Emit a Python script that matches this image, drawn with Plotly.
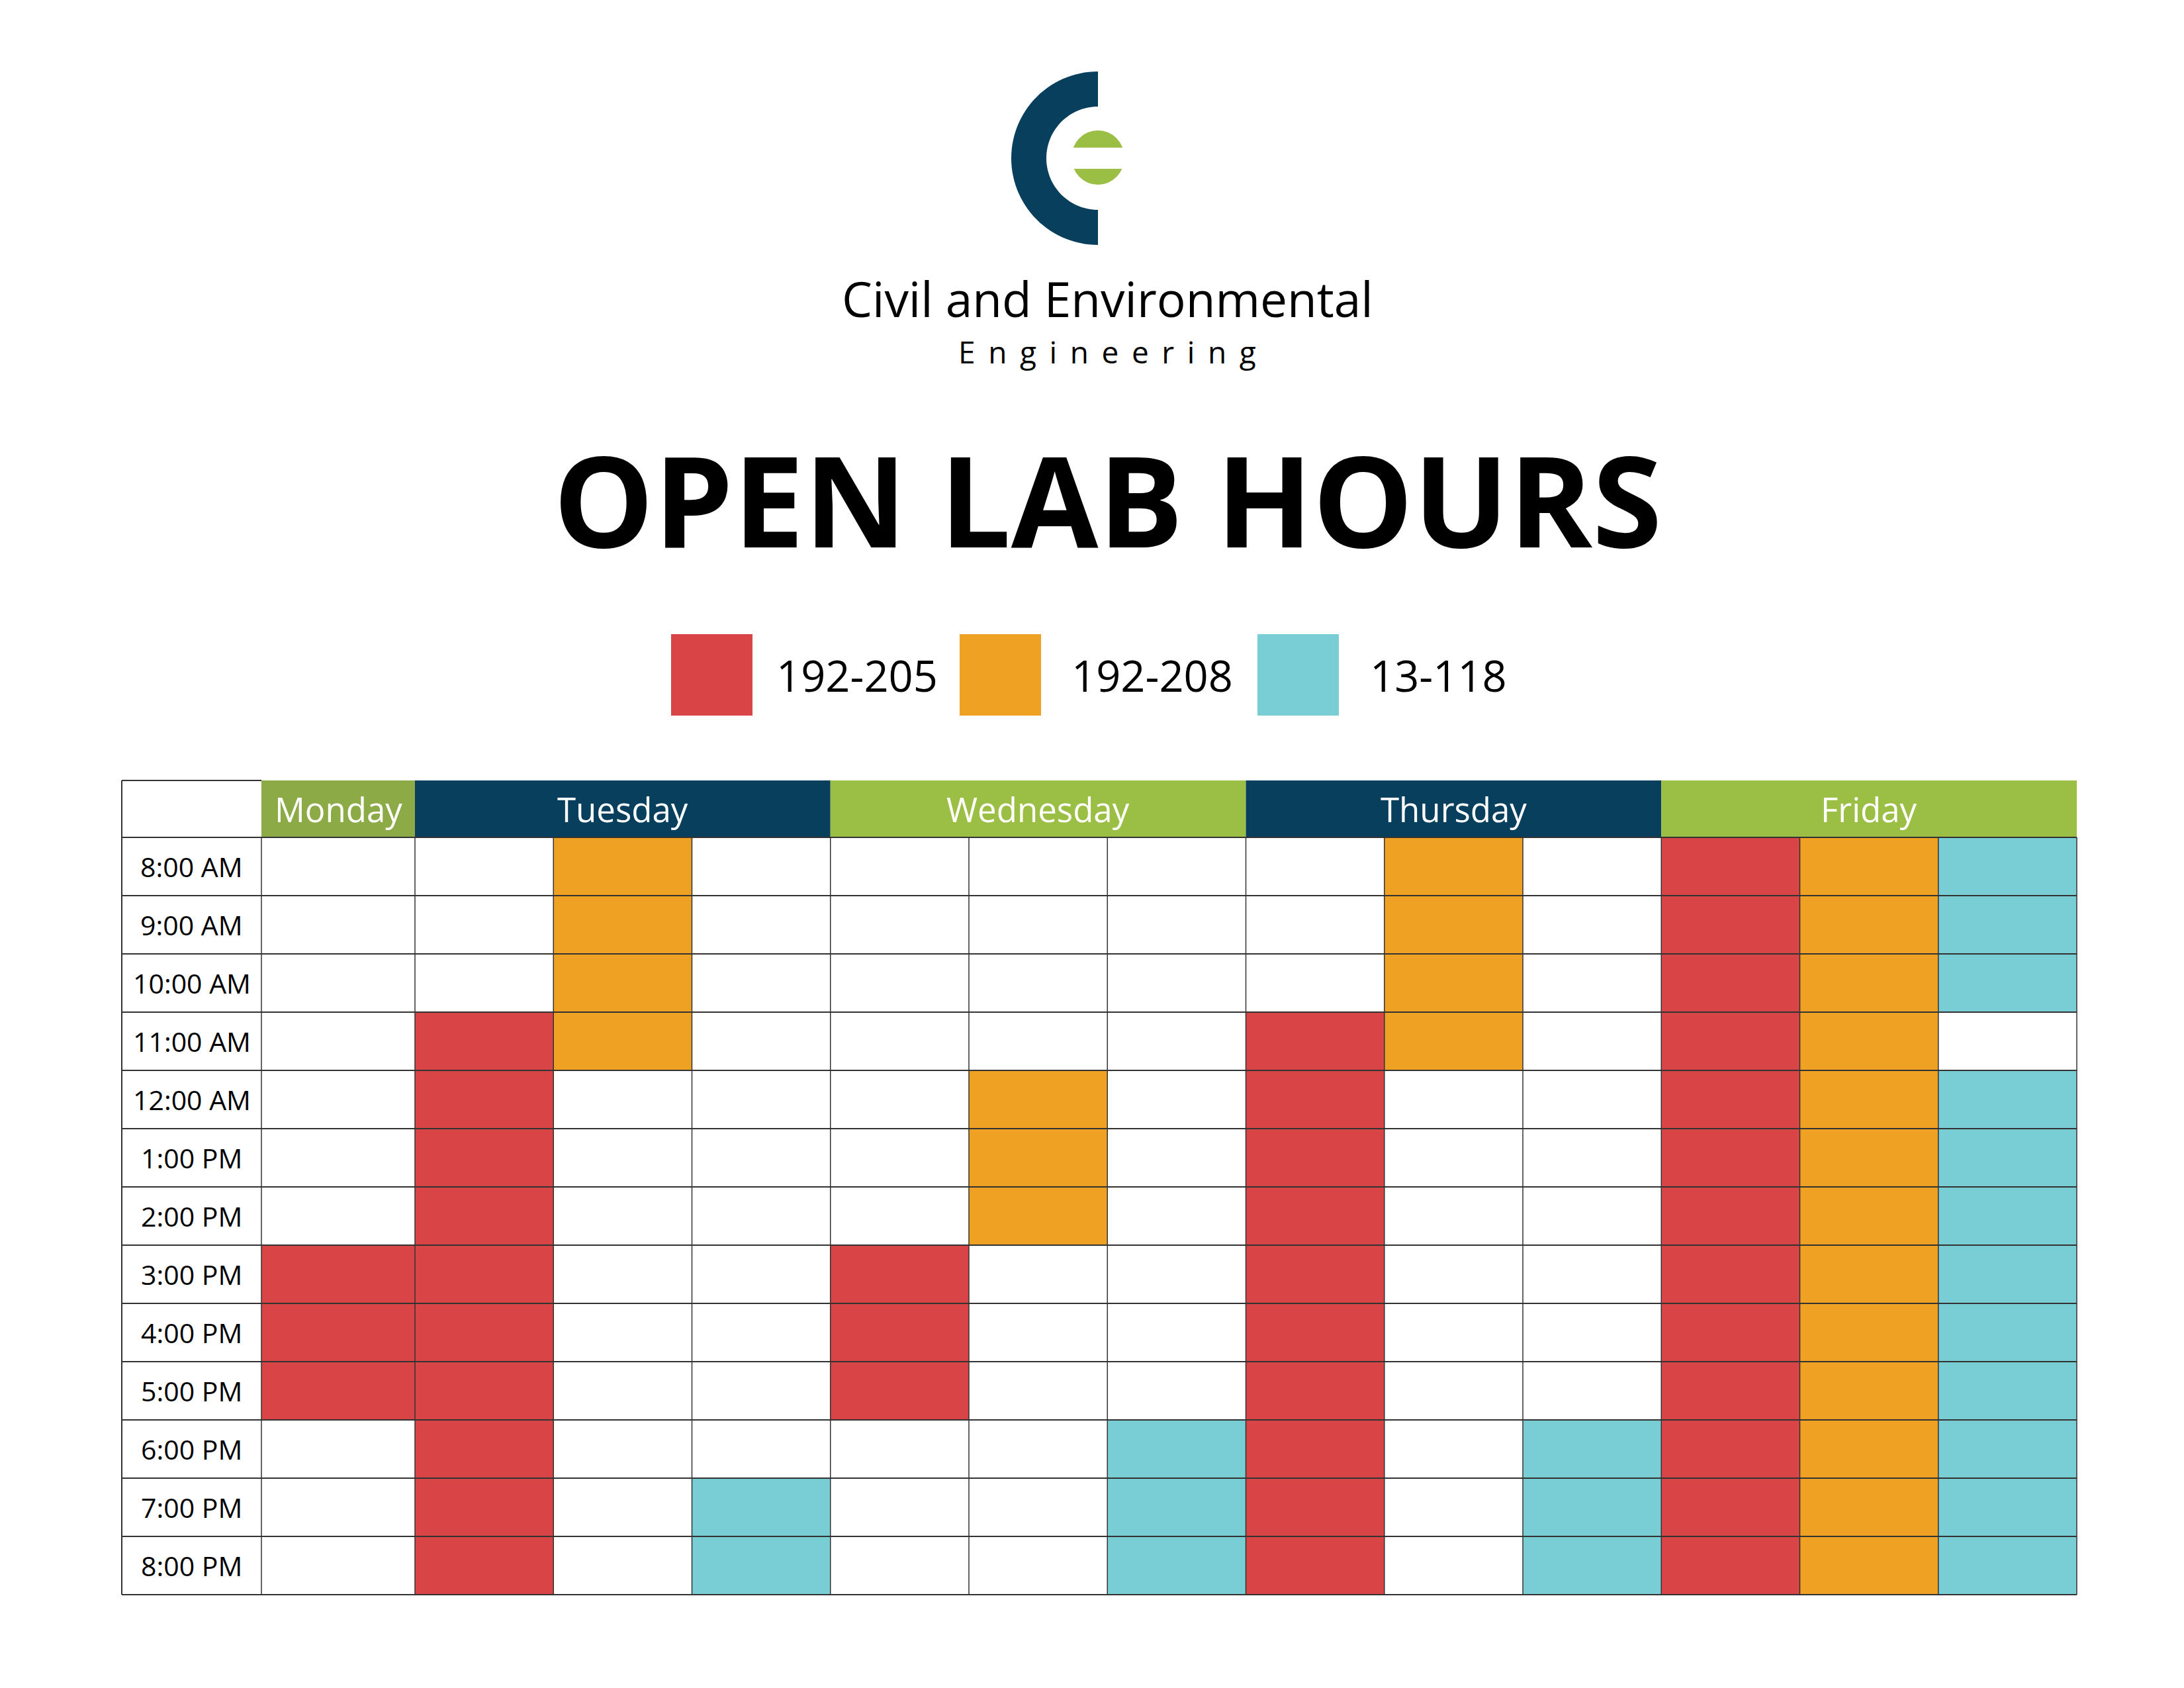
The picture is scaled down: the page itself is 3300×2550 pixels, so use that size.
import math
import plotly.graph_objects as go

# schedule data: 0 = empty, 1 = 192-205, 2 = 192-208, 3 = 13-118
times = ["8:00 AM", "9:00 AM", "10:00 AM", "11:00 AM", "12:00 AM", "1:00 PM", "2:00 PM",
         "3:00 PM", "4:00 PM", "5:00 PM", "6:00 PM", "7:00 PM", "8:00 PM"]
days = ["Monday", "Tuesday", "Wednesday", "Thursday", "Friday"]
day_cols = [1, 3, 3, 3, 3]
rooms = ["192-205", "192-208", "13-118"]
room_colors = ["#D94547", "#EFA124", "#79CDD4"]

monday = [[0, 0, 0, 0, 0, 0, 0, 1, 1, 1, 0, 0, 0]]
tuesday = [[0, 0, 0, 1, 1, 1, 1, 1, 1, 1, 1, 1, 1],
           [2, 2, 2, 2, 0, 0, 0, 0, 0, 0, 0, 0, 0],
           [0, 0, 0, 0, 0, 0, 0, 0, 0, 0, 0, 3, 3]]
wednesday = [[0, 0, 0, 0, 0, 0, 0, 1, 1, 1, 0, 0, 0],
             [0, 0, 0, 0, 2, 2, 2, 0, 0, 0, 0, 0, 0],
             [0, 0, 0, 0, 0, 0, 0, 0, 0, 0, 3, 3, 3]]
thursday = [[0, 0, 0, 1, 1, 1, 1, 1, 1, 1, 1, 1, 1],
            [2, 2, 2, 2, 0, 0, 0, 0, 0, 0, 0, 0, 0],
            [0, 0, 0, 0, 0, 0, 0, 0, 0, 0, 3, 3, 3]]
friday = [[1, 1, 1, 1, 1, 1, 1, 1, 1, 1, 1, 1, 1],
          [2, 2, 2, 2, 2, 2, 2, 2, 2, 2, 2, 2, 2],
          [3, 3, 3, 0, 3, 3, 3, 3, 3, 3, 3, 3, 3]]

columns = monday + tuesday + wednesday + thursday + friday
z = [[col[r] for col in columns] for r in range(len(times))]

# layout geometry (page pixels)
W, H = 3300, 2550
left, tcol = 176, 387
mon_w = 232
sub_w = (3130 - tcol - mon_w) / 12
x_edges = [tcol, tcol + mon_w] + [tcol + mon_w + sub_w * (i + 1) for i in range(12)]
head_top, grid_top, row_h = 1171, 1257, 88
y_edges = [grid_top + row_h * i for i in range(len(times) + 1)]

navy, green, green_dark = "#083F5C", "#9BBE44", "#8CAA46"
font = "Open Sans"

fig = go.Figure()
cs = [[0, "white"], [0.25, "white"], [0.25, room_colors[0]], [0.5, room_colors[0]],
      [0.5, room_colors[1]], [0.75, room_colors[1]], [0.75, room_colors[2]], [1, room_colors[2]]]
fig.add_trace(go.Heatmap(z=z, x=x_edges, y=y_edges, zmin=0, zmax=4 - 1e-9, colorscale=cs,
                         showscale=False, hoverinfo="skip"))

shapes = []
annotations = []

# header bars
head_colors = [green_dark, navy, green, navy, green]
ci = 0
for d, n, c in zip(days, day_cols, head_colors):
    x0, x1 = x_edges[ci], x_edges[ci + n]
    shapes.append(dict(type="rect", x0=x0, x1=x1, y0=head_top, y1=grid_top,
                       fillcolor=c, line=dict(color=c, width=0), layer="above"))
    annotations.append(dict(x=(x0 + x1) / 2, y=(head_top + grid_top) / 2, text=d, showarrow=False,
                            font=dict(family=font, size=51, color="white")))
    ci += n

# grid lines
line_c = "#333333"
for y in y_edges:
    shapes.append(dict(type="line", x0=left, x1=x_edges[-1], y0=y, y1=y, line=dict(color=line_c, width=2)))
for x in x_edges:
    shapes.append(dict(type="line", x0=x, x1=x, y0=grid_top, y1=y_edges[-1], line=dict(color=line_c, width=1.5)))
shapes.append(dict(type="line", x0=left, x1=left, y0=head_top, y1=y_edges[-1], line=dict(color=line_c, width=2)))
shapes.append(dict(type="line", x0=left, x1=tcol, y0=head_top, y1=head_top, line=dict(color=line_c, width=2)))

for i, t in enumerate(times):
    annotations.append(dict(x=(left + tcol) / 2, y=grid_top + row_h * (i + 0.5), text=t, showarrow=False,
                            font=dict(family=font, size=41, color="black")))

# legend
leg_x = [1006, 1442, 1892]
leg_lab_x = [1287, 1733, 2165]
for lx, tx, name, c in zip(leg_x, leg_lab_x, rooms, room_colors):
    shapes.append(dict(type="rect", x0=lx, x1=lx + 123, y0=950, y1=1073, fillcolor=c, line=dict(width=0)))
    annotations.append(dict(x=tx, y=1012, text=name, showarrow=False,
                            font=dict(family=font, size=65, color="black")))

# logo: navy half ring + green split disc
cx, cy, ro, ri = 1651, 231, 131, 78
outer = [(cx - ro * math.sin(math.pi * k / 60), cy - ro * math.cos(math.pi * k / 60)) for k in range(61)]
inner = [(cx - ri * math.sin(math.pi * k / 60), cy - ri * math.cos(math.pi * k / 60)) for k in range(60, -1, -1)]
pts = outer + inner
path = "M " + " L ".join(f"{x:.1f},{y:.1f}" for x, y in pts) + " Z"
shapes.append(dict(type="path", path=path, fillcolor=navy, line=dict(width=0)))
shapes.append(dict(type="circle", x0=cx - 40, x1=cx + 40, y0=cy - 42, y1=cy + 40,
                   fillcolor=green, line=dict(width=0)))
shapes.append(dict(type="rect", x0=cx - 45, x1=cx + 45, y0=cy - 16, y1=cy + 16,
                   fillcolor="white", line=dict(width=0)))

annotations.append(dict(x=1665, y=442, text="Civil and Environmental", showarrow=False,
                        font=dict(family=font, size=73, color="black")))
annotations.append(dict(x=1665, y=523, text="E&#8201; n&#8201; g&#8201; i&#8201; n&#8201; e&#8201; e&#8201; r&#8201; i&#8201; n&#8201; g",
                        showarrow=False, font=dict(family=font, size=46, color="black")))
annotations.append(dict(x=1665, y=745, text="<b>OPEN LAB HOURS</b>", showarrow=False,
                        font=dict(family=font, size=191, color="black")))

fig.update_layout(width=W, height=H, margin=dict(l=0, r=0, t=0, b=0),
                  plot_bgcolor="white", paper_bgcolor="white",
                  xaxis=dict(range=[0, W], visible=False, fixedrange=True),
                  yaxis=dict(range=[H, 0], visible=False, fixedrange=True),
                  shapes=shapes, annotations=annotations, showlegend=False)
fig.write_html("out.html")
